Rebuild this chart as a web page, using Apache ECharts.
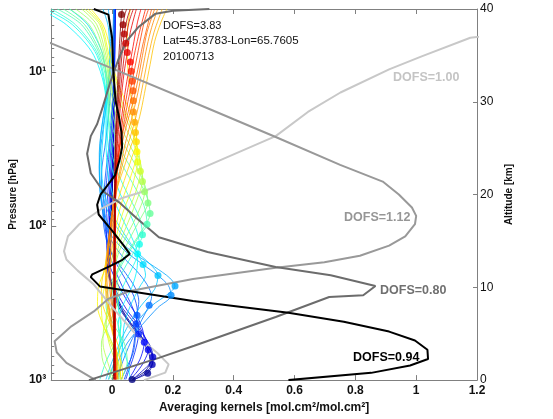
<!DOCTYPE html>
<html>
<head>
<meta charset="utf-8">
<script src="https://cdn.jsdelivr.net/npm/echarts@6/dist/echarts.min.js"></script>
<style>
  html, body { margin: 0; padding: 0; background: #fff; }
  #chart { width: 553px; height: 419px; }
</style>
</head>
<body>
<div id="chart"></div>
<script>
const FONT = 'Liberation Sans, Arial, Helvetica, sans-serif';

// retrieval levels: altitude [km] and diagonal kernel value (the dots)
const dotAlt = [0.07, 0.75, 1.67, 2.49, 3.27, 4.09, 4.98, 6.05, 7.0, 8.07, 9.14, 10.13, 11.27, 12.45, 13.58,
  14.65, 15.68, 16.8, 17.95, 19.1, 20.3, 21.4, 22.5, 23.5, 24.6, 25.7, 26.7, 27.8, 28.9, 30.1, 31.2, 32.2,
  33.3, 34.3, 35.3, 36.3, 37.3, 38.3, 39.4];
const dotAk = [0.066, 0.117, 0.132, 0.134, 0.119, 0.106, 0.087, 0.079, 0.082, 0.122, 0.194, 0.207, 0.151, 0.102, 0.084,
  0.09, 0.1, 0.115, 0.125, 0.118, 0.107, 0.1, 0.093, 0.084, 0.082, 0.08, 0.077, 0.074, 0.07, 0.07, 0.069, 0.066,
  0.063, 0.06, 0.05, 0.045, 0.04, 0.036, 0.031];

// one kernel per level (same order as dotAlt), as [value, altitude] pairs
const kernelPts = [
  [[0.066,0.07],[0.11,1],[0.125,2],[0.12,3],[0.095,4.5],[0.06,6],[0.025,8],[0.0,10],[-0.01,12],[-0.005,15],[0.0,20],[0.005,25],[0.005,30],[0.006,35],[0.006,40]],
  [[0.07,0.07],[0.117,0.75],[0.132,1.8],[0.128,3],[0.1,4.5],[0.065,6],[0.03,7.8],[0.005,9.8],[-0.012,12],[-0.008,15],[0.0,20],[0.004,25],[0.006,30],[0.007,35],[0.008,40]],
  [[0.075,0.07],[0.11,0.8],[0.132,1.67],[0.135,2.5],[0.12,3.5],[0.09,5],[0.05,6.5],[0.02,8],[0.0,10],[-0.015,12],[-0.01,15],[0.0,20],[0.005,25],[0.006,30],[0.008,35],[0.01,40]],
  [[0.068,0.07],[0.1,1],[0.125,1.8],[0.134,2.49],[0.128,3.5],[0.1,5],[0.065,6.5],[0.03,8],[0.005,10],[-0.014,12],[-0.012,15],[-0.004,20],[0.004,25],[0.007,31],[0.01,40]],
  [[0.06,0.07],[0.085,1],[0.105,2],[0.119,3.27],[0.11,4.5],[0.085,6],[0.05,7.5],[0.015,9.5],[-0.01,11.5],[-0.015,13.5],[-0.01,16],[-0.005,20],[0.004,26],[0.008,32],[0.01,40]],
  [[0.055,0.07],[0.075,1.2],[0.095,2.5],[0.106,4.09],[0.1,5.5],[0.08,7],[0.045,8.8],[0.012,10.8],[-0.012,12.8],[-0.018,15],[-0.012,18],[-0.004,23],[0.004,28],[0.008,34],[0.01,40]],
  [[0.045,0.07],[0.06,1.5],[0.075,3],[0.087,4.98],[0.082,6.5],[0.065,8],[0.035,10],[0.008,12],[-0.012,14],[-0.02,17],[-0.012,21],[-0.002,26],[0.005,32],[0.01,40]],
  [[0.04,0.07],[0.055,1.5],[0.07,3.5],[0.079,6.05],[0.083,7.5],[0.072,9],[0.045,10.8],[0.015,12.5],[-0.012,14.5],[-0.025,17.5],[-0.018,21.5],[-0.005,26],[0.004,32],[0.009,40]],
  [[0.03,0.07],[0.05,1.5],[0.07,3],[0.078,5],[0.082,7],[0.088,8.5],[0.075,10],[0.045,11.5],[0.012,13],[-0.018,15],[-0.03,18],[-0.022,22],[-0.008,26],[0.004,32],[0.008,40]],
  [[0.015,0.07],[0.035,2],[0.06,4],[0.09,6],[0.122,8.07],[0.13,9],[0.115,10.3],[0.08,11.8],[0.035,13.3],[-0.005,15.2],[-0.03,18],[-0.035,22],[-0.02,26],[-0.005,31],[0.005,36],[0.007,40]],
  [[0.0,0.07],[0.02,2],[0.05,4],[0.1,6],[0.15,7.8],[0.194,9.14],[0.185,10.2],[0.15,11.3],[0.1,12.5],[0.04,14],[-0.01,16],[-0.035,19],[-0.042,23],[-0.03,27],[-0.012,31],[0.0,35],[0.005,40]],
  [[-0.012,0.07],[0.008,2],[0.035,4],[0.075,6],[0.13,8],[0.185,9.3],[0.207,10.13],[0.19,11],[0.14,12.2],[0.08,13.5],[0.025,15],[-0.015,17],[-0.04,20.5],[-0.042,24.5],[-0.028,28.5],[-0.012,32],[-0.005,36],[-0.012,40]],
  [[-0.02,0.07],[0.0,2],[0.025,4],[0.055,6],[0.095,8],[0.14,9.8],[0.151,11.27],[0.125,12.5],[0.075,14],[0.025,16],[-0.018,18.5],[-0.04,22],[-0.038,26],[-0.022,30],[-0.008,34],[-0.012,38],[-0.03,40]],
  [[0.02,0.07],[0.03,2],[0.035,4],[0.04,6],[0.06,8],[0.09,10],[0.11,11.3],[0.102,12.45],[0.08,13.8],[0.045,15.5],[0.008,17.5],[-0.025,20],[-0.035,23.5],[-0.028,27],[-0.018,31],[-0.03,35],[-0.08,38.3],[-0.14,40]],
  [[0.06,0.07],[0.05,2],[0.03,4],[0.02,6],[0.035,8],[0.065,10],[0.082,12],[0.084,13.58],[0.07,15],[0.04,17],[0.012,19],[-0.012,22],[-0.02,26],[-0.02,30],[-0.06,35],[-0.15,38.3],[-0.24,40]],
  [[0.01,0.07],[0.015,2],[0.025,4],[0.028,6],[0.02,8],[0.035,10],[0.065,12],[0.085,13.5],[0.09,14.65],[0.08,16.2],[0.055,18.2],[0.025,20.2],[-0.002,23],[-0.015,26],[-0.018,30],[-0.05,35],[-0.13,38.3],[-0.22,40]],
  [[-0.04,0.07],[-0.02,2],[0.01,4],[0.03,6],[0.02,8],[0.012,10],[0.04,12],[0.075,14],[0.1,15.68],[0.09,17.5],[0.06,19.5],[0.03,21.5],[0.002,24],[-0.01,27],[-0.015,30],[-0.045,35],[-0.12,38.3],[-0.2,40]],
  [[-0.01,0.07],[0.01,2],[0.03,4],[0.02,6],[0.0,8],[0.0,10],[0.025,12],[0.06,14],[0.095,15.8],[0.115,16.8],[0.105,18.8],[0.075,20.8],[0.04,22.8],[0.008,25],[-0.01,28],[-0.013,31],[-0.04,35],[-0.1,38.3],[-0.18,40]],
  [[0.03,0.07],[0.05,2],[0.04,4],[0.005,6],[-0.02,8],[-0.01,10],[0.02,12],[0.055,14],[0.095,16],[0.125,17.95],[0.112,20],[0.078,22],[0.042,24],[0.012,26],[-0.008,29],[-0.012,32],[-0.035,35],[-0.09,38.3],[-0.16,40]],
  [[0.025,0.07],[0.02,2],[0.0,4],[-0.02,6],[-0.015,8],[0.005,10],[0.02,12],[0.04,14],[0.07,16],[0.1,17.8],[0.118,19.1],[0.108,21],[0.08,23],[0.046,25],[0.015,27],[-0.006,30],[-0.03,35],[-0.075,38.3],[-0.14,40]],
  [[0.0,0.07],[-0.03,2],[-0.035,4],[-0.012,6],[0.015,8],[0.02,10],[0.01,12],[0.025,14],[0.055,16],[0.085,18],[0.107,20.3],[0.1,22],[0.078,24],[0.048,26],[0.018,28],[-0.003,31],[-0.025,35],[-0.06,38.3],[-0.12,40]],
  [[0.005,0.07],[-0.015,2],[-0.03,4],[-0.025,6],[0.0,8],[0.012,10],[0.01,12],[0.018,14],[0.04,16],[0.065,18],[0.088,20],[0.1,21.4],[0.095,23.2],[0.074,25.2],[0.045,27.2],[0.015,29.5],[-0.005,32],[-0.02,35],[-0.05,38.3],[-0.1,40]],
  [[0.02,0.07],[0.01,2],[-0.01,4],[-0.02,6],[-0.012,8],[0.0,10],[0.01,12],[0.012,14],[0.028,16],[0.05,18],[0.075,20],[0.093,22.5],[0.088,24.5],[0.068,26.5],[0.042,28.5],[0.015,31],[-0.005,33],[-0.015,35],[-0.04,38.3],[-0.09,40]],
  [[0.03,0.07],[0.02,2],[-0.005,4],[-0.03,6],[-0.035,8],[-0.025,10],[-0.008,12],[0.005,14],[0.018,16],[0.035,18],[0.058,20],[0.075,22],[0.084,23.5],[0.08,25.5],[0.062,27.5],[0.038,29.5],[0.015,32],[-0.01,35],[-0.035,38.3],[-0.08,40]],
  [[0.035,0.07],[0.03,2],[0.0,4],[-0.03,6],[-0.048,8],[-0.045,10],[-0.022,12],[-0.002,14],[0.01,16],[0.022,18],[0.04,20],[0.062,22],[0.082,24.6],[0.078,27],[0.058,29],[0.032,31],[0.01,33],[-0.008,36],[-0.03,38.3],[-0.07,40]],
  [[0.028,0.07],[0.025,3],[0.0,5.5],[-0.03,8],[-0.035,10],[-0.022,12.5],[-0.006,15],[0.008,18],[0.025,20],[0.045,22],[0.065,24],[0.08,25.7],[0.078,28],[0.065,30],[0.055,32.5],[0.05,35],[0.05,37.5],[0.06,40]],
  [[0.02,0.07],[0.015,3],[-0.005,6],[-0.02,9],[-0.022,12],[-0.012,15],[0.0,18],[0.015,20.5],[0.035,22.5],[0.055,24.5],[0.077,26.7],[0.095,29],[0.11,31.5],[0.125,34],[0.14,36.5],[0.16,38.5],[0.18,40]],
  [[0.018,0.07],[0.012,3.5],[-0.008,7],[-0.02,10.5],[-0.016,13.5],[-0.005,16.5],[0.008,19],[0.022,21.5],[0.04,24],[0.058,26],[0.074,27.8],[0.09,30],[0.105,32.5],[0.12,35],[0.138,37.5],[0.165,40]],
  [[0.015,0.07],[0.01,4],[-0.01,8],[-0.018,12],[-0.012,15],[0.0,18],[0.01,20],[0.025,22.5],[0.04,25],[0.055,27],[0.07,28.9],[0.085,31],[0.1,33.5],[0.115,36],[0.13,38],[0.15,40]],
  [[0.013,0.07],[0.008,5],[-0.008,10],[-0.012,13.5],[-0.004,17],[0.006,19.5],[0.018,22.5],[0.033,25.5],[0.052,28],[0.07,30.1],[0.086,32.5],[0.1,35],[0.115,37.5],[0.14,40]],
  [[0.012,0.07],[0.006,6],[-0.006,12],[0.0,17],[0.006,20],[0.016,23],[0.03,26],[0.05,28.5],[0.069,31.2],[0.085,33.5],[0.1,36],[0.115,38],[0.13,40]],
  [[0.012,0.07],[0.008,8],[0.004,14],[0.008,19],[0.014,22],[0.025,25],[0.038,27.5],[0.052,30],[0.066,32.2],[0.08,34.5],[0.092,36.5],[0.105,38.5],[0.12,40]],
  [[0.012,0.07],[0.01,10],[0.01,18],[0.015,22],[0.024,25],[0.035,28],[0.05,31],[0.063,33.3],[0.076,35.5],[0.09,37.5],[0.11,40]],
  [[0.011,0.07],[0.01,10],[0.011,19],[0.014,22.5],[0.022,25.5],[0.032,28.5],[0.045,31.5],[0.06,34.3],[0.072,36.5],[0.083,38.5],[0.095,40]],
  [[0.01,0.07],[0.01,10],[0.012,20],[0.015,24],[0.021,27],[0.029,30],[0.039,33],[0.05,35.3],[0.06,37.5],[0.08,40]],
  [[0.009,0.07],[0.009,10],[0.011,20],[0.014,24.5],[0.019,27.5],[0.026,30.5],[0.035,33.5],[0.045,36.3],[0.055,38.5],[0.07,40]],
  [[0.008,0.07],[0.008,10],[0.01,20],[0.012,25],[0.017,28],[0.023,31],[0.031,34.5],[0.04,37.3],[0.05,39],[0.06,40]],
  [[0.006,0.07],[0.007,10],[0.009,20],[0.011,25],[0.015,28],[0.02,31],[0.026,34.5],[0.036,38.3],[0.043,39.5],[0.048,40]],
  [[0.005,0.07],[0.006,10],[0.008,20],[0.01,25],[0.013,28],[0.017,31],[0.021,34],[0.026,37],[0.031,39.4],[0.034,40]]
];

// partial column kernels
const pcLow = [[0.58,0],[0.852,0.78],[0.98,1.57],[1.039,2.27],[1.037,3.27],[0.996,4.27],[0.911,5.23],[0.762,6.3],
  [0.58,7.25],[0.266,8.53],[-0.04,10.1],[-0.07,11.1],[-0.065,11.4],[-0.012,12.2],[0.031,12.9],[0.058,13.6],
  [0.036,14.6],[0.0,16.1],[-0.044,17.85],[-0.049,18.9],[-0.038,20.0],[-0.017,20.9],[0.01,22.1],[0.026,23.9],
  [0.033,25.1],[0.031,26.7],[0.022,28.5],[0.012,30.0],[0.004,33.3],[0.0,36.9],[-0.012,39.4],[-0.06,40]];
const pcMid = [[-0.076,0],[0.154,2.4],[0.27,3.7],[0.538,6.8],[0.714,8.96],[0.826,9.14],[0.866,10.15],[0.719,11.3],
  [0.538,12.2],[0.314,13.8],[0.154,15.4],[0.079,17.5],[0.026,19.1],[-0.028,20.3],[-0.07,22.3],[-0.082,24.4],
  [-0.07,26.3],[-0.049,27.6],[-0.03,29.5],[-0.006,32.1],[0.02,34.5],[0.047,36.5],[0.085,38],[0.143,39.5],
  [0.2,39.8],[0.32,40]];
const pcUpper = [[-0.054,0],[-0.15,1.85],[-0.182,3.0],[-0.189,4.2],[-0.134,5.8],[-0.06,7.4],[-0.013,8.75],
  [0.06,9.6],[0.154,10.2],[0.266,10.9],[0.538,12.1],[0.698,12.7],[0.815,13.4],[0.911,14.5],[0.964,15.5],
  [0.996,16.8],[1.0,17.7],[0.986,18.6],[0.943,20.0],[0.89,21.4],[0.75,23.2],[0.538,26.2],[0.314,29.3],
  [0.0,33.6],[-0.2,36.3],[-0.3,37.6]];
const pcTop = [[0.105,0],[0.175,0.8],[0.186,1.7],[0.15,2.9],[0.084,4.7],[0.0,7.9],[-0.06,10.3],[-0.113,11.8],
  [-0.15,13.0],[-0.158,13.9],[-0.145,15.5],[-0.108,16.8],[-0.028,18.6],[0.031,19.6],[0.1,20.3],[0.271,22.5],
  [0.538,26.3],[0.644,28.9],[0.751,31.0],[0.911,33.5],[1.018,34.9],[1.178,36.9],[1.3,37.4]];

// left axis: pressure [hPa] tick positions
const pMajor = [10, 100, 1000];
const pMinor = [4, 5, 6, 7, 8, 9, 20, 30, 40, 50, 60, 70, 80, 90, 200, 300, 400, 500, 600, 700, 800, 900];
const kmPerDecade = 16.6;
const pToAlt = p => kmPerDecade * (3 - Math.log10(p));
const sup = ['⁰', '¹', '²', '³'];

const clamp = v => Math.max(0, Math.min(1, v));
const jet = t => {
  const r = clamp(1.5 - Math.abs(4 * t - 3));
  const g = clamp(1.5 - Math.abs(4 * t - 2));
  const b = clamp(1.5 - Math.abs(4 * t - 1));
  return 'rgb(' + Math.round(r * 255) + ',' + Math.round(g * 255) + ',' + Math.round(b * 255) + ')';
};

const axisGray = '#808080';
const nLev = dotAlt.length - 1;
const series = [];

kernelPts.forEach((pts, i) => {
  series.push({
    type: 'line',
    data: pts,
    showSymbol: false,
    smooth: 0.3,
    silent: true,
    z: 2,
    lineStyle: {width: 0.8, color: jet(i / nLev)}
  });
});

[[pcTop, '#c8c8c8'], [pcUpper, '#999999'], [pcMid, '#6c6c6c'], [pcLow, '#000000']].forEach(item => {
  series.push({
    type: 'line',
    data: item[0],
    showSymbol: false,
    silent: true,
    z: 3,
    lineStyle: {width: 2, color: item[1]}
  });
});

series.push({
  type: 'scatter',
  data: dotAk.map((v, i) => [v, dotAlt[i]]),
  symbolSize: 7,
  silent: true,
  z: 4,
  itemStyle: {color: p => jet(p.dataIndex / nLev)}
});

const chart = echarts.init(document.getElementById('chart'));
chart.setOption({
  animation: false,
  backgroundColor: '#fff',
  grid: {left: 40, right: 76, top: 9, bottom: 35},
  xAxis: [
    {
      type: 'value', position: 'bottom', min: -0.2, max: 1.2, interval: 0.2,
      axisLine: {onZero: false, lineStyle: {color: axisGray}},
      axisTick: {inside: true, length: 5, lineStyle: {color: axisGray}},
      splitLine: {show: false},
      axisLabel: {
        margin: 5, color: '#111', fontFamily: FONT, fontSize: 12, fontWeight: 'bold',
        formatter: v => {
          const r = Math.round(v * 10) / 10;
          return r < -0.1 ? '' : String(r);
        }
      },
      name: 'Averaging kernels [mol.cm²/mol.cm²]',
      nameLocation: 'middle', nameGap: 20,
      nameTextStyle: {color: '#111', fontFamily: FONT, fontSize: 12, fontWeight: 'bold'}
    },
    {
      type: 'value', position: 'top', min: -0.2, max: 1.2, interval: 0.2,
      axisLine: {onZero: false, lineStyle: {color: axisGray}},
      axisTick: {inside: true, length: 5, lineStyle: {color: axisGray}},
      axisLabel: {show: false},
      splitLine: {show: false}
    }
  ],
  yAxis: [
    {
      type: 'value', position: 'right', min: 0, max: 40, interval: 10,
      axisLine: {show: true, onZero: false, lineStyle: {color: axisGray}},
      axisTick: {show: true, inside: true, length: 4, lineStyle: {color: axisGray}},
      splitLine: {show: false},
      axisLabel: {margin: 3, color: '#111', fontFamily: FONT, fontSize: 12},
      name: 'Altitude [km]', nameLocation: 'middle', nameRotate: 90, nameGap: 18,
      nameTextStyle: {color: '#111', fontFamily: FONT, fontSize: 10, fontWeight: 'bold'}
    },
    {
      type: 'value', position: 'left', min: 0, max: 40,
      axisLine: {show: true, onZero: false, lineStyle: {color: axisGray}},
      axisTick: {show: true, inside: true, length: 5, customValues: pMajor.map(pToAlt), lineStyle: {color: axisGray}},
      splitLine: {show: false},
      axisLabel: {
        customValues: pMajor.map(pToAlt),
        margin: 5, color: '#111', fontFamily: FONT, fontSize: 12, fontWeight: 'bold',
        formatter: v => '10' + sup[Math.round(3 - v / kmPerDecade)]
      },
      name: 'Pressure [hPa]', nameLocation: 'middle', nameRotate: 90, nameGap: 29,
      nameTextStyle: {color: '#111', fontFamily: FONT, fontSize: 10, fontWeight: 'bold'}
    },
    {
      type: 'value', position: 'left', min: 0, max: 40,
      axisLine: {show: false, onZero: false},
      axisTick: {show: true, inside: true, length: 3, customValues: pMinor.map(pToAlt), lineStyle: {color: axisGray}},
      axisLabel: {show: false},
      splitLine: {show: false}
    }
  ],
  graphic: [
    {type: 'text', x: 163, y: 25.5, style: {text: 'DOFS=3.83', fill: '#111', fontFamily: FONT, fontSize: 11, verticalAlign: 'middle'}},
    {type: 'text', x: 163, y: 41, style: {text: 'Lat=45.3783-Lon=65.7605', fill: '#111', fontFamily: FONT, fontSize: 11.5, verticalAlign: 'middle'}},
    {type: 'text', x: 163, y: 57, style: {text: '20100713', fill: '#111', fontFamily: FONT, fontSize: 11.5, verticalAlign: 'middle'}},
    {type: 'text', x: 393, y: 78, style: {text: 'DOFS=1.00', fill: '#c4c4c4', fontFamily: FONT, fontSize: 12.5, fontWeight: 'bold', verticalAlign: 'middle'}},
    {type: 'text', x: 344, y: 218, style: {text: 'DOFS=1.12', fill: '#969696', fontFamily: FONT, fontSize: 12.5, fontWeight: 'bold', verticalAlign: 'middle'}},
    {type: 'text', x: 380, y: 291, style: {text: 'DOFS=0.80', fill: '#707070', fontFamily: FONT, fontSize: 12.5, fontWeight: 'bold', verticalAlign: 'middle'}},
    {type: 'text', x: 353, y: 358, style: {text: 'DOFS=0.94', fill: '#000', fontFamily: FONT, fontSize: 12.5, fontWeight: 'bold', verticalAlign: 'middle'}}
  ],
  series: series
});
</script>
</body>
</html>
